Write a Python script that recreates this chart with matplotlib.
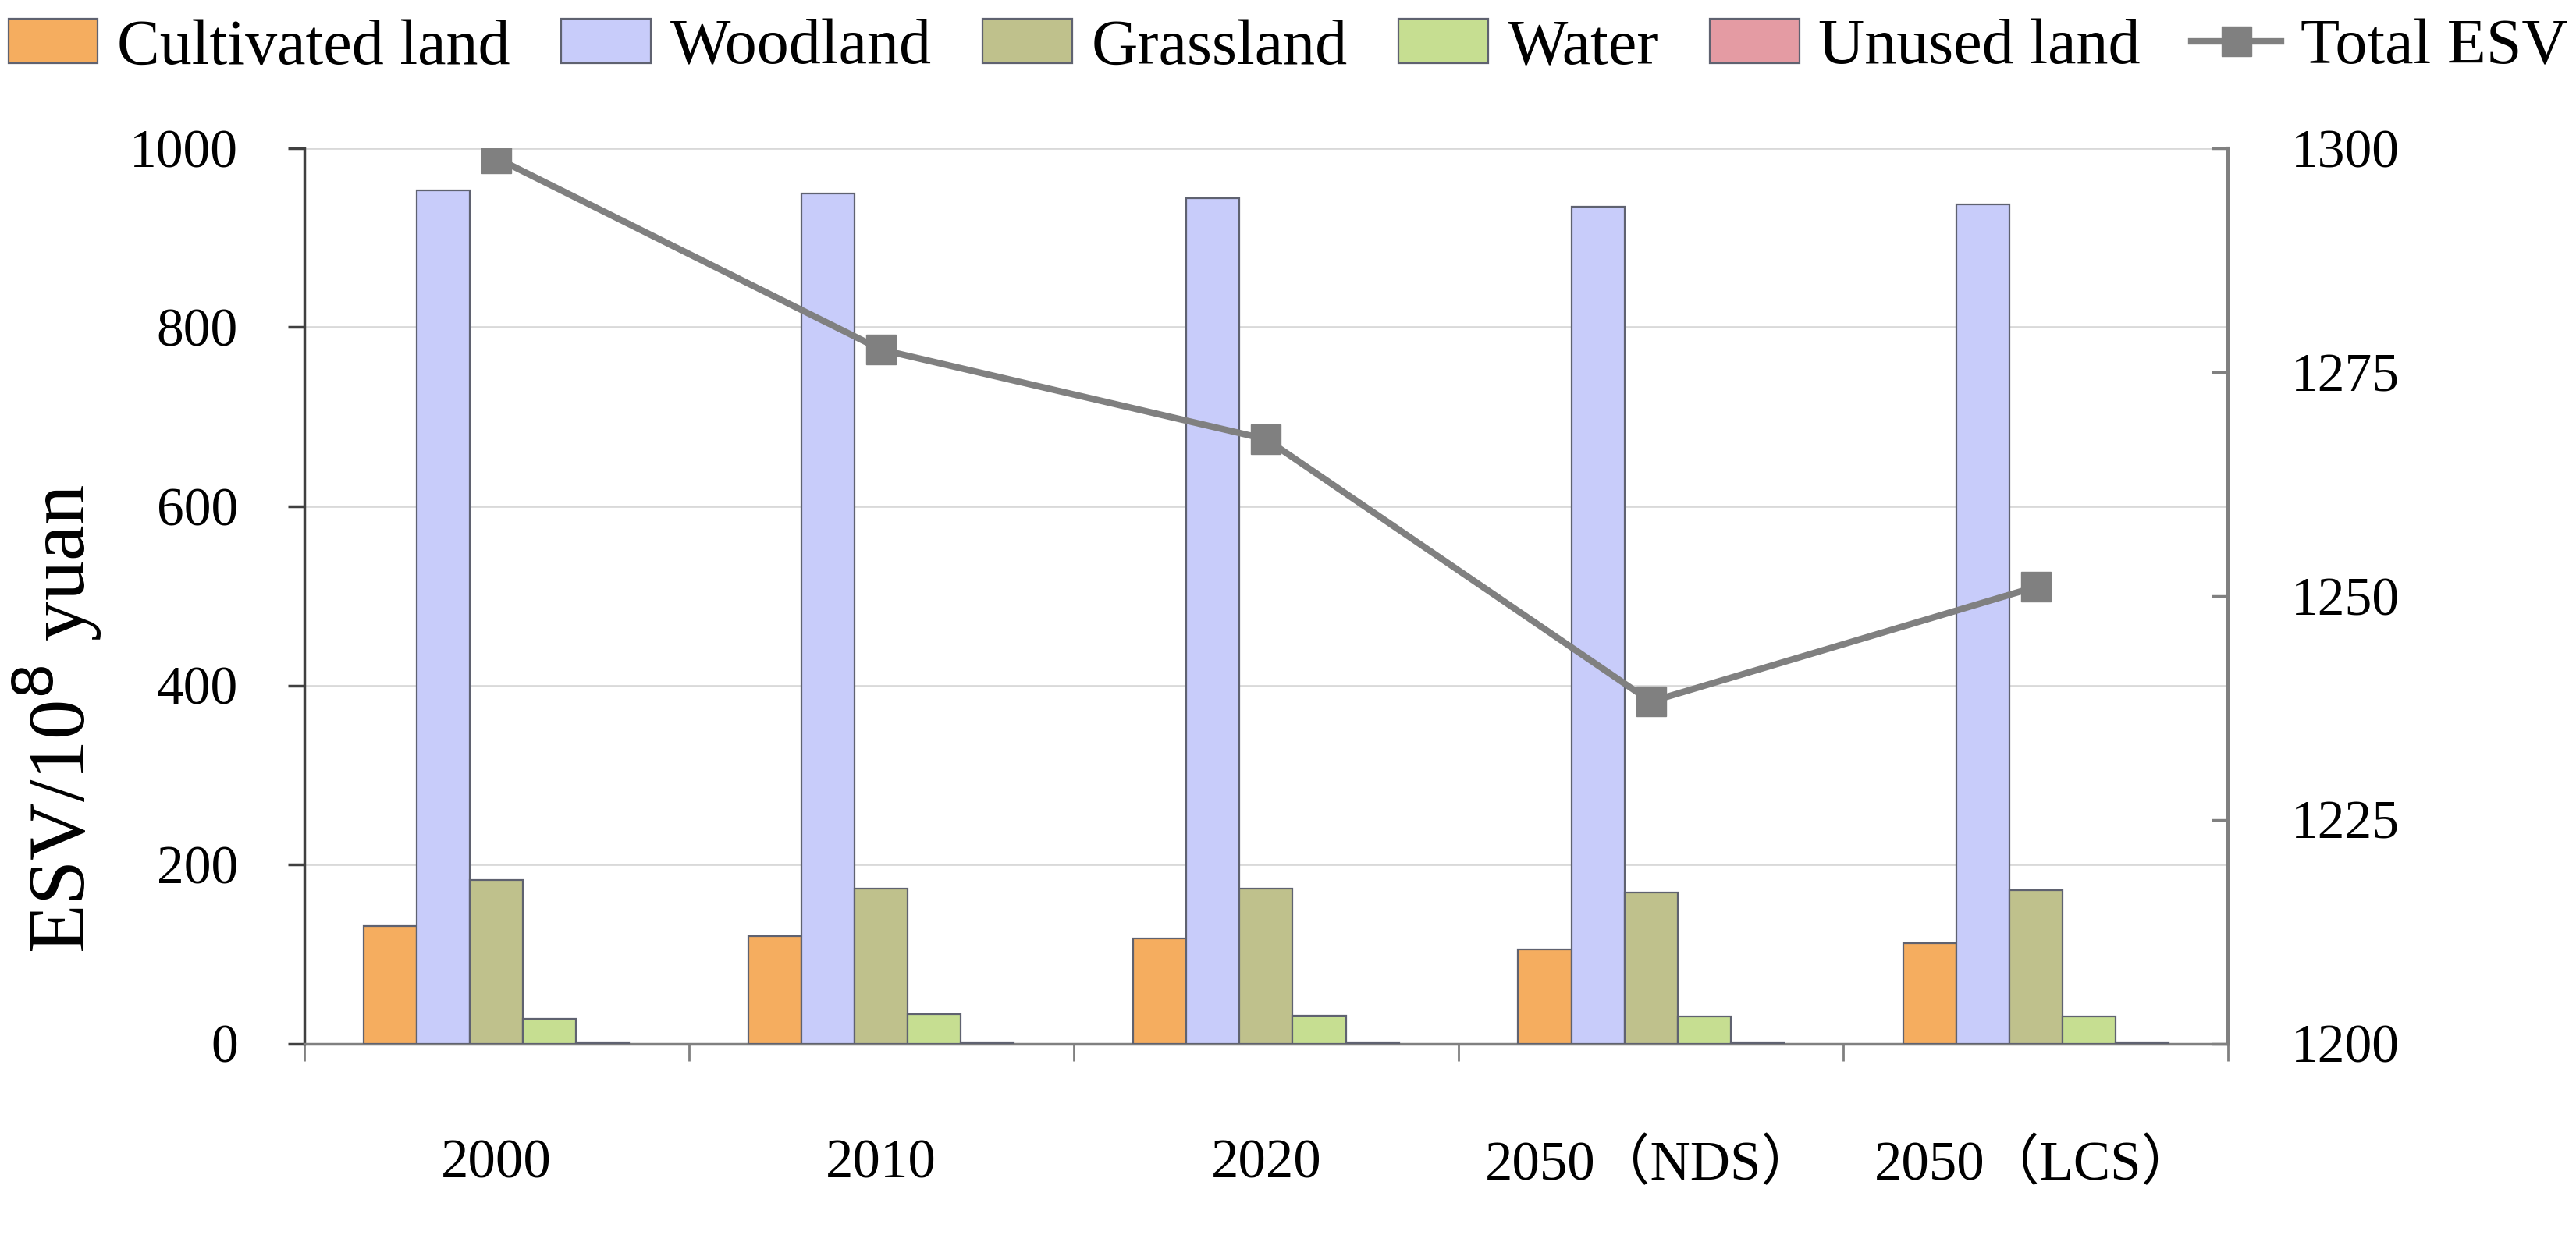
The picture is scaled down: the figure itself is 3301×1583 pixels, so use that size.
import matplotlib
matplotlib.use("Agg")
import matplotlib.pyplot as plt
import numpy as np

categories = ["2000", "2010", "2020", "2050（NDS）", "2050（LCS）"]
series_names = ["Cultivated land", "Woodland", "Grassland", "Water", "Unused land"]
cultivated = [131, 120, 117, 105, 112]
woodland = [953, 949, 944, 935, 937]
grassland = [183, 173, 173, 169, 171]
water = [28, 33, 31, 30, 30]
unused = [1.5, 1.5, 1.5, 1.5, 1.5]
total_esv = [1298.9, 1277.5, 1267.5, 1238.2, 1251.0]

colors = ["#F5AD5F", "#C8CCFA", "#BFC18C", "#C6DE91", "#E49BA3"]

plt.rcParams['font.family'] = ['Liberation Serif', 'Noto Sans CJK SC']

fig = plt.figure(figsize=(33.01, 15.83), dpi=100)
ax = fig.add_axes([0.118, 0.155, 0.747, 0.725])
ax2 = ax.twinx()

x = np.arange(len(categories))
data = [cultivated, woodland, grassland, water, unused]
bw = 0.138
handles = []
for i, (vals, name, c) in enumerate(zip(data, series_names, colors)):
    b = ax.bar(x + (i - 2) * bw, vals, width=bw, color=c, edgecolor="#5F6270",
               linewidth=1.6, label=name, zorder=3)
    handles.append(b)

ln, = ax2.plot(x, total_esv, color="#808080", linewidth=6, marker="s",
               markersize=28, label="Total ESV", zorder=5)
handles.append(ln)

ax.set_xlim(-0.5, len(categories) - 0.5)
ax.set_ylim(0, 1000)
ax.set_yticks(range(0, 1001, 200))
ax2.set_ylim(1200, 1300)
ax2.set_yticks(range(1200, 1301, 25))

ax.grid(axis="y", color="#D9D9D9", linewidth=2, zorder=0)
ax.set_axisbelow(True)

ax.set_xticks(x)
ax.set_xticklabels(categories)
ax.set_xticks(np.arange(-0.5, len(categories), 1.0), minor=True)
ax.tick_params(axis="x", which="major", length=0, pad=88, labelsize=51)
ax.tick_params(axis="x", which="minor", length=16, width=2, color="#808080", direction="out")
ax.tick_params(axis="y", length=15, width=2.5, labelsize=50, pad=46, color="#404040")
ax2.tick_params(axis="y", length=15, width=2.5, labelsize=50, pad=58, color="#808080",
                direction="in")

for a in (ax, ax2):
    a.spines["top"].set_visible(False)
ax.spines["left"].set_color("#404040")
ax.spines["left"].set_linewidth(2.5)
ax.spines["bottom"].set_color("#808080")
ax.spines["bottom"].set_linewidth(2.5)
ax2.spines["right"].set_color("#808080")
ax2.spines["right"].set_linewidth(3)
ax2.spines["left"].set_visible(False)
ax2.spines["bottom"].set_visible(False)
ax.spines["right"].set_visible(False)

fig.text(0.022, 0.418, "ESV/10$^{8}$ yuan", rotation=90, fontsize=74,
         ha="center", va="center")

fig.legend(handles=handles, labels=series_names + ["Total ESV"], loc="center",
           bbox_to_anchor=(0.5, 0.961), ncol=6, frameon=False, fontsize=59,
           handlelength=1.4, handleheight=0.7, columnspacing=0.8, handletextpad=0.3)

fig.savefig("out.png", dpi=100)
